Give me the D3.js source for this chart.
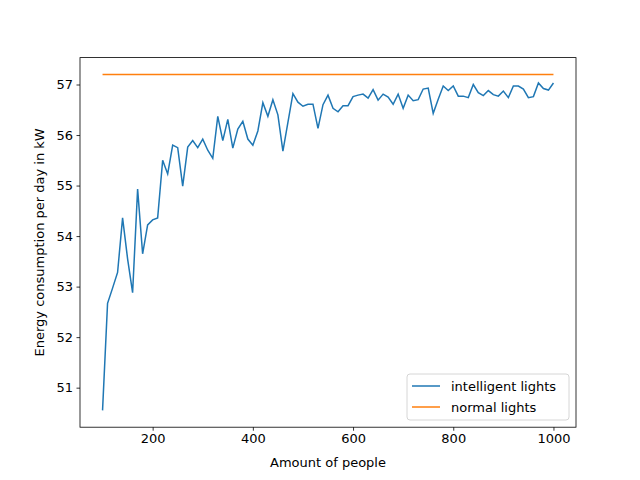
<!DOCTYPE html>
<html><head><meta charset="utf-8">
<script src="https://cdn.jsdelivr.net/npm/d3@7"></script>
<style>body{margin:0;background:#fff}text{font-family:"DejaVu Sans",sans-serif}</style>
</head><body><svg id="c" width="640" height="480"></svg>
<script>
const people = d3.range(100, 1001, 10);
const intelligent = [50.55,52.67,52.97,53.28,54.36,53.55,52.88,54.93,53.65,54.22,54.32,54.36,55.50,55.23,55.80,55.75,54.99,55.76,55.89,55.75,55.92,55.70,55.54,56.37,55.89,56.31,55.74,56.12,56.27,55.92,55.80,56.08,56.64,56.37,56.70,56.40,55.68,56.25,56.82,56.65,56.57,56.61,56.61,56.13,56.60,56.79,56.53,56.46,56.58,56.58,56.76,56.79,56.81,56.73,56.90,56.69,56.81,56.75,56.61,56.81,56.53,56.79,56.68,56.70,56.91,56.93,56.43,56.71,56.97,56.88,56.97,56.77,56.77,56.74,57.00,56.84,56.78,56.88,56.80,56.77,56.87,56.74,56.97,56.97,56.91,56.74,56.76,57.03,56.92,56.89,57.03];
const normalX = [100, 1000];
const normalY = [57.2, 57.2];
const xTicks = [200,400,600,800,1000];
const yTicks = [51,52,53,54,55,56,57];

const L=80,R=576,T=57.6,B=427.2;
const svg=d3.select("#c");
const x=d3.scaleLinear().domain([55,1045]).range([L,R]);
const y=d3.scaleLinear().domain([50.2175,57.5325]).range([B,T]);
const line=d3.line().x(d=>x(d[0])).y(d=>y(d[1]));
svg.append("path").datum(people.map((p,i)=>[p,intelligent[i]])).attr("d",line).attr("fill","none").attr("stroke","#1f77b4").attr("stroke-width",1.5);
svg.append("path").datum(normalX.map((p,i)=>[p,normalY[i]])).attr("d",line).attr("fill","none").attr("stroke","#ff7f0e").attr("stroke-width",1.5);
const ax=svg.append("g").attr("transform",`translate(0,${B})`).call(d3.axisBottom(x).tickValues(xTicks).tickFormat(d3.format("d")).tickSize(3.5).tickPadding(3.5));
const ay=svg.append("g").attr("transform",`translate(${L},0)`).call(d3.axisLeft(y).tickValues(yTicks).tickFormat(d3.format("d")).tickSize(3.5).tickPadding(3.5));
[ax,ay].forEach(a=>{a.select(".domain").remove();a.selectAll("text").attr("font-size",13).attr("fill","#000");a.selectAll("line").attr("stroke","#000").attr("stroke-width",0.8);});
svg.append("rect").attr("x",L).attr("y",T).attr("width",R-L).attr("height",B-T).attr("fill","none").attr("stroke","#000").attr("stroke-width",0.8);
svg.append("text").attr("x",(L+R)/2).attr("y",467).attr("text-anchor","middle").attr("font-size",13).text("Amount of people");
svg.append("text").attr("transform",`translate(44,${(T+B)/2}) rotate(-90)`).attr("text-anchor","middle").attr("font-size",13).text("Energy consumption per day in kW");
const lg=svg.append("g").attr("transform","translate(407,374)");
lg.append("rect").attr("width",162).attr("height",46).attr("rx",3).attr("fill","#fff").attr("fill-opacity",0.8).attr("stroke","#ccc").attr("stroke-width",0.8);
[["intelligent lights","#1f77b4"],["normal lights","#ff7f0e"]].forEach((d,i)=>{
  lg.append("line").attr("x1",5).attr("x2",33).attr("y1",12+i*21).attr("y2",12+i*21).attr("stroke",d[1]).attr("stroke-width",1.5);
  lg.append("text").attr("x",44).attr("y",16.5+i*21).attr("font-size",13).text(d[0]);
});
</script></body></html>
